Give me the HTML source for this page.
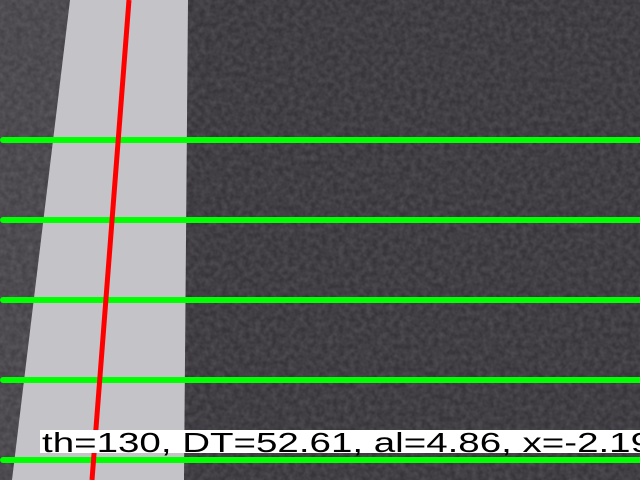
<!DOCTYPE html>
<html><head><meta charset="utf-8"><style>
html,body{margin:0;padding:0;width:640px;height:480px;overflow:hidden;background:#3c3a3f}
svg{display:block}
text{font-family:"Liberation Sans",sans-serif}
</style></head><body>
<svg id="scene" width="640" height="480" viewBox="0 0 640 480">
  <defs>
    <filter id="grain" x="0" y="0" width="100%" height="100%">
      <feTurbulence type="fractalNoise" baseFrequency="0.18" numOctaves="2" seed="3"/>
      <feColorMatrix type="matrix" values="0 0 0 0 0.5  0 0 0 0 0.5  0 0 0 0 0.52  0 0 0 0.9 -0.2"/>
    </filter>
  </defs>
  <rect x="0" y="0" width="640" height="480" fill="#373539"/>
  <rect x="0" y="0" width="70" height="480" fill="#454248"/>
  <rect x="0" y="0" width="640" height="480" filter="url(#grain)" opacity="0.3"/>
  <polygon points="70,0 188,0 184,480 12,480" fill="#c4c3c7"/>
  <g id="hlines"></g>
  <line x1="129" y1="0" x2="92" y2="480" stroke="#ff0000" stroke-width="5"/>
  <rect x="40" y="430" width="600" height="23" fill="#ffffff"/>
  <text x="42" y="452" font-size="28" fill="#000" textLength="610" lengthAdjust="spacingAndGlyphs">th=130, DT=52.61, al=4.86, x=-2.19</text>
</svg>
<script>
const scanRows = [140, 220, 300, 380, 460];
const g = document.getElementById('hlines');
scanRows.forEach(function(y, i){
  const l = document.createElementNS('http://www.w3.org/2000/svg','line');
  
  
  l.setAttribute('x1', 3); l.setAttribute('x2', 640);
  l.setAttribute('y1', y); l.setAttribute('y2', y);
  l.setAttribute('stroke', '#00ff00');
  l.setAttribute('stroke-width', 6);
  l.setAttribute('stroke-linecap', 'round');
  g.appendChild(l);
});
</script>
</body></html>
